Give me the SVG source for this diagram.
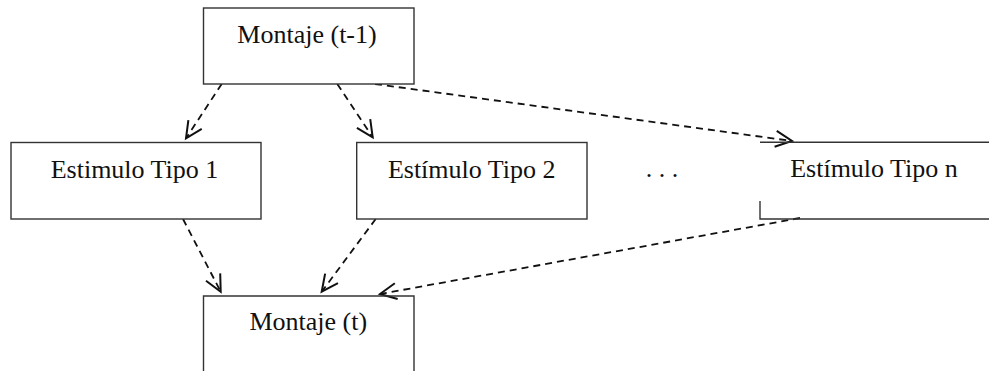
<svg xmlns="http://www.w3.org/2000/svg" width="989" height="371" viewBox="0 0 989 371">
  <style>
    .box { fill: #ffffff; stroke: #333333; stroke-width: 1.4; }
    .edge { fill: none; stroke: #333333; stroke-width: 1.4; }
    .label { font-family: "Liberation Serif", "Times New Roman", serif; font-size: 26px; fill: #111111; text-anchor: middle; }
    .link { fill: none; stroke: #111111; stroke-width: 1.8; stroke-dasharray: 7 5; }
  </style>
  <defs>
    <marker id="open-arrow" markerUnits="userSpaceOnUse" markerWidth="26" markerHeight="26" viewBox="-21 -13 26 26" refX="0" refY="0" orient="auto">
      <path d="M-16.5,-8 L0,0 L-16.5,8" fill="none" stroke="#111111" stroke-width="2"/>
    </marker>
  </defs>
  <rect width="989" height="371" fill="#ffffff"/>

  <g id="connectors">
    <line class="link" x1="221.7" y1="84" x2="186" y2="138.3" marker-end="url(#open-arrow)"/>
    <line class="link" x1="337.3" y1="84" x2="372.7" y2="137.3" marker-end="url(#open-arrow)"/>
    <line class="link" x1="375" y1="84" x2="792" y2="141" marker-end="url(#open-arrow)"/>
    <line class="link" x1="183" y1="219" x2="220.7" y2="291.7" marker-end="url(#open-arrow)"/>
    <line class="link" x1="375.7" y1="219" x2="321.7" y2="291.7" marker-end="url(#open-arrow)"/>
    <line class="link" x1="800" y1="218" x2="380" y2="294" marker-end="url(#open-arrow)"/>
  </g>

  <g id="montaje-t-1">
    <rect class="box" x="203.5" y="8" width="210.5" height="76"/>
    <text class="label" x="307" y="43">Montaje (t-1)</text>
  </g>

  <g id="estimulo-1">
    <rect class="box" x="11" y="142.5" width="250" height="76.5"/>
    <text class="label" x="134.5" y="177.5">Estimulo Tipo 1</text>
  </g>

  <g id="estimulo-2">
    <rect class="box" x="356.7" y="142.5" width="230.3" height="76.5"/>
    <text class="label" x="471.7" y="177.5">Estímulo Tipo 2</text>
  </g>

  <g id="ellipsis">
    <text class="label" x="662" y="177">. . .</text>
  </g>

  <g id="estimulo-n">
    <path class="edge" d="M760,142.3 H990 M760,201 V219 H990"/>
    <text class="label" x="874" y="177">Estímulo Tipo n</text>
  </g>

  <g id="montaje-t">
    <path class="edge" d="M203.5,375 V296 H414 V375"/>
    <text class="label" x="308.3" y="330">Montaje (t)</text>
  </g>
</svg>
